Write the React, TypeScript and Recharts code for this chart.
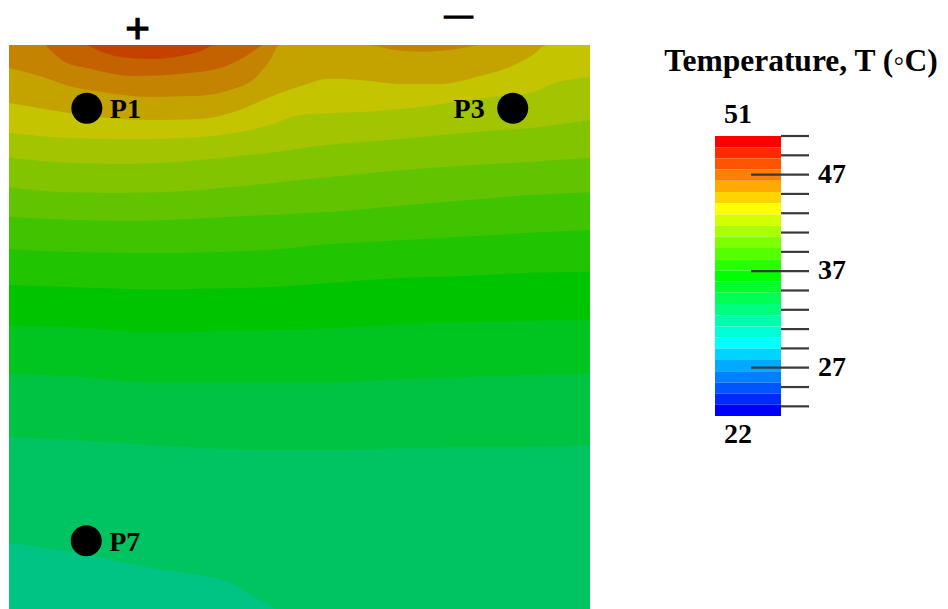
import { ComposedChart, Area, Scatter, XAxis, YAxis, CartesianGrid } from "recharts";

// colour scale edges (deg C), top to bottom of the colour bar
const scaleEdges = [51, 49.84, 48.68, 47.52, 46.36, 45.2, 44.04, 42.88, 41.72, 40.56, 39.4, 38.24, 37.08,
  35.92, 34.76, 33.6, 32.44, 31.28, 30.12, 28.96, 27.8, 26.64, 25.48, 24.32, 23.16, 22];
const scaleTicks = [22, 23, 25, 27, 29, 31, 33, 35, 37, 39, 41, 43, 45, 47, 49, 51];
const labelledTicks = [27, 37, 47];

const jet = ["#ff0000", "#ff2a00", "#ff5500", "#ff7f00", "#ffaa00", "#ffd400", "#ffff00", "#d4ff00", "#aaff00",
  "#7fff00", "#55ff00", "#2aff00", "#00ff00", "#00ff2a", "#00ff55", "#00ff7f", "#00ffaa", "#00ffd4", "#00ffff",
  "#00d4ff", "#00aaff", "#007fff", "#0055ff", "#002aff", "#0000ff"];

// isotherms: [x (% of width), depth (% of height from top)]
const iso4752: [number, number][] = [[13.4, 0], [15.7, 1.1], [19.1, 2.1], [24.3, 2.5], [29.4, 2.0], [32.9, 1.1], [35.1, 0]];
const iso4636: [number, number][] = [[6.2, 0], [10.0, 3.2], [13.4, 4.1], [21.3, 5.5], [29.9, 5.1], [36.3, 4.1], [40.6, 2.1], [43.5, 0]];
const iso4520: [number, number][] = [[0, 4.1], [5.3, 5.5], [10.5, 7.3], [15.7, 8.3], [24.3, 9.2], [32.9, 9.0], [38.0, 8.0],
  [42.3, 5.9], [44.9, 2.7], [46.6, 0], [61.6, 0], [66.4, 0.9], [71.3, 1.2], [75.9, 0.9], [80.6, 0]];
const iso4404: [number, number][] = [[0, 10.3], [5.3, 11.2], [10.5, 12.1], [15.7, 12.8], [24.3, 13.3], [32.9, 13.1], [39.8, 11.5],
  [44.9, 9.2], [50.1, 7.3], [55.2, 6.0], [60.4, 6.2], [67.3, 6.9], [74.2, 6.9], [81.1, 5.5], [86.2, 3.9], [89.7, 2.1], [92.8, 0], [100, 0]];
const iso4288: [number, number][] = [[0, 15.6], [10.5, 16.5], [20.8, 16.7], [32.9, 16.3], [44.9, 14.2], [50.1, 12.4], [55.2, 12.1],
  [60.4, 11.9], [70.7, 11.0], [82.8, 9.2], [89.7, 8.5], [94.3, 6.6], [100, 5.7]];
const iso4172: [number, number][] = [[0, 20.0], [10.5, 20.9], [20.8, 21.1], [32.9, 20.4], [44.9, 19.1], [55.2, 17.7], [65.6, 16.8],
  [82.8, 15.2], [89.7, 14.7], [100, 13.3]];
const iso4056: [number, number][] = [[0, 25.2], [10.5, 26.1], [20.8, 26.2], [32.9, 25.7], [44.9, 24.5], [55.2, 23.4], [67.3, 22.2],
  [79.3, 21.3], [89.7, 20.7], [100, 20.0]];
const iso3940: [number, number][] = [[0, 30.5], [10.5, 31.0], [20.8, 31.2], [32.9, 30.7], [44.9, 30.1], [55.2, 29.6], [67.3, 28.5],
  [79.3, 27.5], [89.7, 26.6], [100, 26.1]];
const iso3824: [number, number][] = [[0, 36.2], [10.5, 36.7], [24.3, 36.9], [44.9, 36.3], [55.2, 35.3], [67.3, 34.6], [77.6, 34.0],
  [89.7, 33.3], [100, 32.8]];
const iso3708: [number, number][] = [[0, 42.6], [10.5, 42.9], [24.3, 43.3], [44.9, 42.9], [55.2, 42.2], [67.3, 41.3], [77.6, 41.0],
  [89.7, 40.4], [100, 40.2]];
const iso3592: [number, number][] = [[0, 49.8], [10.5, 50.0], [24.3, 50.9], [44.9, 50.5], [55.2, 50.2], [67.3, 49.5], [77.6, 49.1],
  [89.7, 48.9], [100, 48.6]];
const iso3476: [number, number][] = [[0, 58.3], [10.5, 58.7], [24.3, 59.8], [44.9, 59.8], [55.2, 59.8], [67.3, 59.2], [77.6, 58.9],
  [89.7, 58.5], [100, 58.3]];
const iso3360: [number, number][] = [[0, 69.5], [10.5, 70.0], [24.3, 70.9], [44.9, 71.8], [55.2, 71.8], [67.3, 71.5], [77.6, 71.3],
  [89.7, 71.3], [100, 70.9]];
const iso3244: [number, number][] = [[0, 88.3], [5.3, 89.0], [13.1, 90.4], [24.3, 92.7], [38.2, 95.4], [41.5, 97.5], [44.1, 98.9],
  [46.1, 100], [100, 100]];

// probe locations
const probeNames = ["P1", "P3", "P7"];
const probeX = [13.4, 86.7, 13.3];
const probeDepth = [11.2, 11.2, 87.9];

// cold to hot, so the hotter regions paint on top
const isotherms: { level: number; pts: [number, number][] }[] = [
  { level: 32.44, pts: iso3244 }, { level: 33.6, pts: iso3360 }, { level: 34.76, pts: iso3476 },
  { level: 35.92, pts: iso3592 }, { level: 37.08, pts: iso3708 }, { level: 38.24, pts: iso3824 },
  { level: 39.4, pts: iso3940 }, { level: 40.56, pts: iso4056 }, { level: 41.72, pts: iso4172 },
  { level: 42.88, pts: iso4288 }, { level: 44.04, pts: iso4404 }, { level: 45.2, pts: iso4520 },
  { level: 46.36, pts: iso4636 }, { level: 47.52, pts: iso4752 },
];

const shade = (hex: string) => {
  const n = parseInt(hex.slice(1), 16);
  const k = 0.77;
  return `rgb(${Math.round(((n >> 16) & 255) * k)},${Math.round(((n >> 8) & 255) * k)},${Math.round((n & 255) * k)})`;
};
const bandAbove = (level: number) => shade(jet[scaleEdges.indexOf(level) - 1]);
const coldest = shade(jet[scaleEdges.indexOf(32.44)]);

const probes = probeNames.map((name, i) => ({ name, x: probeX[i], d: probeDepth[i] }));
// each colour-bar band is a range from its lower to its upper edge
const barBands = jet.map((c, i) => ({
  color: c,
  rows: [{ x: 0, r: [scaleEdges[i + 1], scaleEdges[i]] }, { x: 1, r: [scaleEdges[i + 1], scaleEdges[i]] }],
}));
const serif = "'Liberation Serif', 'Times New Roman', serif";

const ProbeMark = (props: any) => {
  const { cx, cy, payload } = props;
  const left = payload.x > 50;
  return (
    <g>
      <circle cx={cx} cy={cy} r={15.5} fill="#000" />
      <text x={left ? cx - 28 : cx + 23} y={cy + 10} textAnchor={left ? "end" : "start"}
        fontFamily={serif} fontWeight="bold" fontSize={28} fill="#000">{payload.name}</text>
    </g>
  );
};

const BarTick = (props: any) => {
  const { x, y, payload } = props;
  const v = payload.value;
  const txt = { fontFamily: serif, fontWeight: "bold" as const, fontSize: 28, fill: "#000" };
  if (v === 22) return <text x={x - 43} y={y + 27} textAnchor="middle" {...txt}>22</text>;
  const major = labelledTicks.includes(v);
  return (
    <g>
      <line x1={major ? x - 30 : x} x2={x + 28} y1={y} y2={y} stroke="#3a3a3a" strokeWidth={2.2} />
      {v === 51 && <text x={x - 43} y={y - 13} textAnchor="middle" {...txt}>51</text>}
      {major && <text x={x + 37} y={y + 8} {...txt}>{v}</text>}
    </g>
  );
};

export default function App() {
  return (
    <div style={{ position: "absolute", left: 0, top: 0, width: 948, height: 609, background: "#fff", overflow: "hidden" }}>
      <svg width={948} height={609} style={{ position: "absolute", left: 0, top: 0 }}>
        <text x={125} y={43} fontFamily={serif} fontWeight="bold" fontSize={44} fill="#000"
          stroke="#000" strokeWidth={1.2}>+</text>
        <text x={443} y={25} textLength={32} lengthAdjust="spacingAndGlyphs" fontFamily={serif} fontWeight="bold"
          fontSize={24} fill="#000" stroke="#000" strokeWidth={1.6}>−</text>
        <text x={801} y={71} textAnchor="middle" fontFamily={serif} fontWeight="bold" fontSize={31.5} fill="#000">
          Temperature, T (◦C)
        </text>
      </svg>

      <div style={{ position: "absolute", left: 0, top: 0 }}>
        <ComposedChart width={600} height={609} margin={{ top: 45, right: 10, bottom: 0, left: 9 }}>
          <CartesianGrid fill={coldest} stroke="none" horizontal={false} vertical={false} />
          <XAxis type="number" dataKey="x" domain={[0, 100]} allowDataOverflow hide />
          <YAxis type="number" domain={[0, 100]} reversed allowDataOverflow hide />
          {isotherms.map((iso) => (
            <Area key={iso.level} data={iso.pts.map(([x, d]) => ({ x, d }))} dataKey="d" type="monotone"
              baseValue={0} stroke="none" fill={bandAbove(iso.level)} fillOpacity={1}
              dot={false} activeDot={false} isAnimationActive={false} />
          ))}
          <Scatter data={probes} dataKey="d" shape={<ProbeMark />} isAnimationActive={false} />
        </ComposedChart>
      </div>

      <div style={{ position: "absolute", left: 700, top: 0 }}>
        <ComposedChart width={248} height={609} margin={{ top: 136, right: 107, bottom: 193, left: 15 }}>
          <XAxis type="number" dataKey="x" domain={[0, 1]} hide />
          {barBands.map((b) => (
            <Area key={b.color} data={b.rows} dataKey="r" type="linear" stroke="none" fill={b.color}
              fillOpacity={1} dot={false} activeDot={false} isAnimationActive={false} />
          ))}
          <YAxis type="number" orientation="right" domain={[22, 51]} ticks={scaleTicks} interval={0}
            width={60} tickSize={0} tickMargin={0} axisLine={false} tickLine={false} tick={<BarTick />} />
        </ComposedChart>
      </div>
    </div>
  );
}
